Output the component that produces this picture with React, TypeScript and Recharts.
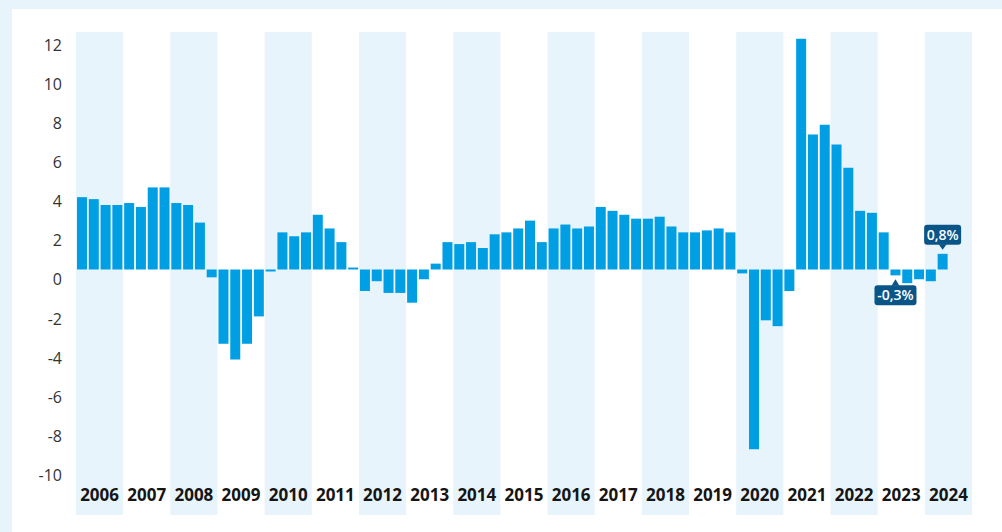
import React from "react";
import { ComposedChart, Bar, XAxis, YAxis, ReferenceArea, LabelList } from "recharts";

// Year-on-year change, quarterly (%)
const years = [2006, 2007, 2008, 2009, 2010, 2011, 2012, 2013, 2014, 2015, 2016, 2017, 2018, 2019, 2020, 2021, 2022, 2023, 2024];
const quarterNames = ["Q1", "Q2", "Q3", "Q4"];

const v2006 = [3.7, 3.6, 3.3, 3.3];
const v2007 = [3.4, 3.2, 4.2, 4.2];
const v2008 = [3.4, 3.3, 2.4, -0.4];
const v2009 = [-3.8, -4.6, -3.8, -2.4];
const v2010 = [-0.1, 1.9, 1.7, 1.9];
const v2011 = [2.8, 2.1, 1.4, 0.1];
const v2012 = [-1.1, -0.6, -1.2, -1.2];
const v2013 = [-1.7, -0.5, 0.3, 1.4];
const v2014 = [1.3, 1.4, 1.1, 1.8];
const v2015 = [1.9, 2.1, 2.5, 1.4];
const v2016 = [2.1, 2.3, 2.1, 2.2];
const v2017 = [3.2, 3.0, 2.8, 2.6];
const v2018 = [2.6, 2.7, 2.2, 1.9];
const v2019 = [1.9, 2.0, 2.1, 1.9];
const v2020 = [-0.2, -9.2, -2.6, -2.9];
const v2021 = [-1.1, 11.8, 6.9, 7.4];
const v2022 = [6.4, 5.2, 3.0, 2.9];
const v2023 = [1.9, -0.3, -0.7, -0.5];
const v2024 = [-0.6, 0.8, null, null];

const valuesByYear = [v2006, v2007, v2008, v2009, v2010, v2011, v2012, v2013, v2014, v2015, v2016, v2017, v2018, v2019, v2020, v2021, v2022, v2023, v2024];

const yTicks = [-10, -8, -6, -4, -2, 0, 2, 4, 6, 8, 10, 12];
const shadedYears = [2006, 2008, 2010, 2012, 2014, 2016, 2018, 2020, 2022, 2024];

const noteKeys = ["2023 Q2", "2024 Q2"];
const noteTexts = ["-0,3%", "0,8%"];

const data = years.flatMap((yr, yi) =>
  quarterNames.map((qn, qi) => {
    const q = `${yr} ${qn}`;
    const ni = noteKeys.indexOf(q);
    return { q, v: valuesByYear[yi][qi], note: ni >= 0 ? noteTexts[ni] : null };
  })
);

const FONT = "'Open Sans', 'Noto Sans', sans-serif";
const BAR = "#009fe3";
const BAND = "#e8f4fc";
const NOTE = "#0a5588";

const YTick = (props: any) => {
  const { x, y, payload } = props;
  return (
    <text x={x} y={y} dy={16} textAnchor="end" fontSize={16} fill="#333" fontFamily={FONT}>
      {payload.value}
    </text>
  );
};

const yearLabel = (year: number) => (props: any) => {
  const vb = props.viewBox || props;
  const { x, y, width, height } = vb;
  return (
    <text
      x={x + width / 2}
      y={y + height - 14}
      textAnchor="middle"
      fontSize={17}
      fontWeight={700}
      fill="#151515"
      fontFamily={FONT}
    >
      {year}
    </text>
  );
};

const renderNote = (props: any) => {
  const idx = props.index;
  const row = data[idx];
  if (!row || !row.note) return null;
  const vb = props.viewBox || props;
  const x = vb.x ?? props.x;
  const y = vb.y ?? props.y;
  const width = vb.width ?? props.width;
  const height = vb.height ?? props.height;
  const top = Math.min(y, y + height);
  const bottom = Math.max(y, y + height);
  const cx = x + width / 2;
  const text = row.note;
  const w = 17 + 5 * text.length;
  const h = 20;
  let boxTop: number;
  let tri: string;
  if ((row.v as number) >= 0) {
    const tip = top - 4;
    const boxBottom = tip - 5;
    boxTop = boxBottom - h;
    tri = `M${cx - 4},${boxBottom - 0.5} L${cx},${tip} L${cx + 4},${boxBottom - 0.5} Z`;
  } else {
    const tip = bottom + 4;
    boxTop = tip + 6;
    tri = `M${cx - 4},${boxTop + 0.5} L${cx},${tip} L${cx + 4},${boxTop + 0.5} Z`;
  }
  return (
    <g>
      <rect x={cx - w / 2} y={boxTop} width={w} height={h} rx={3} ry={3} fill={NOTE} />
      <path d={tri} fill={NOTE} />
      <text
        x={cx}
        y={boxTop + h / 2 + 5}
        textAnchor="middle"
        fontSize={14}
        fontWeight={600}
        fill="#ffffff"
        fontFamily={FONT}
      >
        {text}
      </text>
    </g>
  );
};

export default function App() {
  return (
    <div
      style={{
        position: "absolute",
        left: 0,
        top: 0,
        width: 1002,
        height: 532,
        background: BAND,
        overflow: "hidden",
      }}
    >
      <div style={{ position: "absolute", left: 12, top: 9, width: 990, height: 523, background: "#ffffff" }}>
        <ComposedChart
          width={990}
          height={523}
          data={data}
          margin={{ top: 23, right: 30, bottom: 17, left: 0 }}
          barCategoryGap={1}
        >
          <XAxis xAxisId="q" dataKey="q" type="category" hide padding={{ left: 0, right: 0 }} />
          <YAxis
            type="number"
            domain={[-12.56, 12.15]}
            ticks={yTicks}
            allowDataOverflow
            interval={0}
            width={64}
            axisLine={false}
            tickLine={false}
            tickSize={0}
            tickMargin={14}
            tick={<YTick />}
          />
          {years.map((yr) => (
            <ReferenceArea
              key={yr}
              xAxisId="q"
              x1={`${yr} Q1`}
              x2={`${yr} Q4`}
              fill={shadedYears.includes(yr) ? BAND : "none"}
              fillOpacity={1}
              stroke="none"
              ifOverflow="visible"
              label={yearLabel(yr)}
            />
          ))}
          <Bar xAxisId="q" dataKey="v" fill={BAR} isAnimationActive={false}>
            <LabelList dataKey="v" content={renderNote} />
          </Bar>
        </ComposedChart>
      </div>
    </div>
  );
}
